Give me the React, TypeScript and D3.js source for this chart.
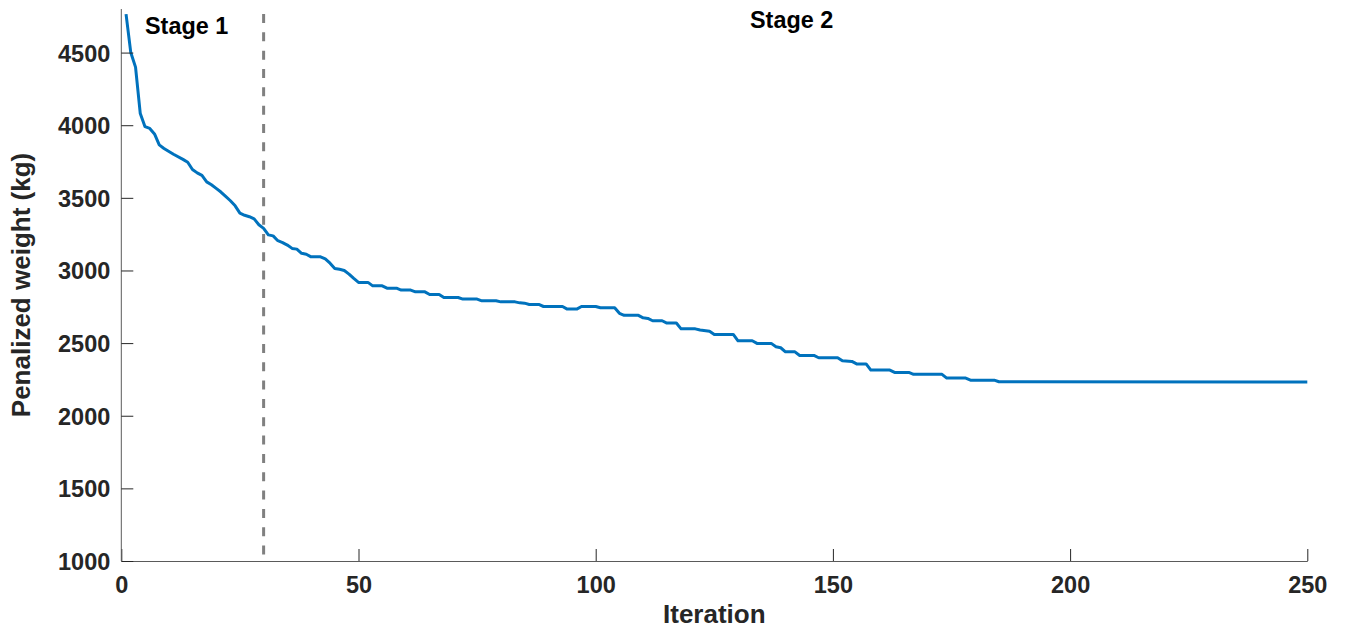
import React, { useEffect, useRef } from 'react'
import * as d3 from 'd3'

// breakpoints of the best-so-far curve (iteration, penalized weight in kg)
const iterations = [
	1, 2, 3, 4, 5, 6, 7, 8, 9, 11, 13, 14, 15, 16, 17, 18, 19, 20, 21, 22, 23, 24, 25, 26, 27, 28, 29, 30,
	31, 32, 33, 34, 35, 36, 37, 38, 39, 40, 42, 43, 44, 45, 46, 47, 48, 49, 50, 52, 53, 55, 56, 58, 59, 61,
	62, 64, 65, 67, 68, 71, 72, 75, 76, 79, 80, 83, 84, 85, 86, 88, 89, 93, 94, 96, 97, 100, 101, 104, 105,
	106, 109, 110, 111, 112, 114, 115, 117, 118, 121, 122, 124, 125, 129, 130, 133, 134, 137, 138, 139, 140,
	142, 143, 146, 147, 151, 152, 154, 155, 157, 158, 162, 163, 166, 167, 173, 174, 178, 179, 184, 185, 250,
]
const weights = [
	4765, 4500, 4400, 4080, 3990, 3978, 3940, 3865, 3840, 3800, 3765, 3745, 3695, 3672, 3655, 3610, 3590,
	3565, 3540, 3510, 3480, 3445, 3395, 3380, 3370, 3355, 3315, 3290, 3245, 3238, 3205, 3192, 3175, 3152,
	3147, 3118, 3112, 3094, 3094, 3080, 3050, 3014, 3008, 3000, 2975, 2945, 2918, 2918, 2894, 2894, 2878,
	2878, 2865, 2865, 2853, 2853, 2835, 2835, 2814, 2814, 2803, 2803, 2791, 2791, 2784, 2784, 2777, 2775,
	2766, 2766, 2752, 2752, 2734, 2734, 2752, 2752, 2743, 2743, 2705, 2691, 2691, 2674, 2670, 2654, 2654,
	2638, 2638, 2598, 2598, 2590, 2582, 2560, 2560, 2516, 2516, 2498, 2498, 2475, 2468, 2440, 2440, 2415,
	2415, 2399, 2399, 2378, 2374, 2357, 2357, 2314, 2314, 2298, 2298, 2285, 2285, 2259, 2259, 2245, 2245,
	2234, 2232,
]
const xTicks = [0, 50, 100, 150, 200, 250]
const yTicks = [1000, 1500, 2000, 2500, 3000, 3500, 4000, 4500]
const stageSplit = 30
const stageLabels = ['Stage 1', 'Stage 2']

const App = () => {
	const ref = useRef<SVGSVGElement>(null)

	useEffect(() => {
		const svg = d3.select(ref.current)
		svg.selectAll('*').remove()

		const font = "'Liberation Sans', Arial, sans-serif"
		const ink = '#262626'
		const left = 121.3
		const right = 1307.3
		const top = 9
		const bottom = 561

		const xScale = d3.scaleLinear().domain([0, 250]).range([left, right])
		const yScale = d3.scaleLinear().domain([1000, 4800]).range([bottom, top])

		// stage divider
		svg.append('line')
			.attr('x1', xScale(stageSplit))
			.attr('x2', xScale(stageSplit))
			.attr('y1', yScale(4800))
			.attr('y2', yScale(1000))
			.attr('stroke', '#808080')
			.attr('stroke-width', 3)
			.attr('stroke-dasharray', '9 9.33')
			.attr('stroke-dashoffset', 13.33)

		const points = iterations.map((it, i) => [it, weights[i]] as [number, number])
		const line = d3
			.line<[number, number]>()
			.x(d => xScale(d[0]))
			.y(d => yScale(d[1]))

		svg.append('path')
			.attr('d', line(points))
			.attr('fill', 'none')
			.attr('stroke', '#0072BD')
			.attr('stroke-width', 3)
			.attr('stroke-linejoin', 'round')

		// axes, MATLAB style with inward ticks
		const xAxis = d3
			.axisBottom(xScale)
			.tickValues(xTicks)
			.tickFormat(d3.format('d'))
			.tickSize(-12)
			.tickPadding(15)
			.tickSizeOuter(0)
		const yAxis = d3
			.axisLeft(yScale)
			.tickValues(yTicks)
			.tickFormat(d3.format('d'))
			.tickSize(-12)
			.tickPadding(11)
			.tickSizeOuter(0)

		const gx = svg.append('g').attr('transform', `translate(0, ${bottom})`).call(xAxis)
		const gy = svg.append('g').attr('transform', `translate(${left}, 0)`).call(yAxis)

		for (const g of [gx, gy]) {
			g.select('.domain').attr('stroke', '#5a5a5a').attr('stroke-width', 1)
			g.selectAll('.tick line').attr('stroke', ink).attr('stroke-width', 1)
			g.selectAll('.tick text')
				.attr('fill', ink)
				.attr('font-family', font)
				.attr('font-weight', 'bold')
				.attr('font-size', 23.5)
		}
		gy.select('.domain').attr('d', `M0,${top}V${bottom}`)
		gy.selectAll('.tick text').attr('dy', '0.36em')
		gx.selectAll('.tick text').attr('dy', '0.71em')

		svg.append('text')
			.text('Iteration')
			.attr('x', (left + right) / 2)
			.attr('y', 623)
			.attr('text-anchor', 'middle')
			.attr('fill', ink)
			.attr('font-family', font)
			.attr('font-weight', 'bold')
			.attr('font-size', 26)

		svg.append('text')
			.text('Penalized weight (kg)')
			.attr('transform', `translate(30, ${(top + bottom) / 2}) rotate(-90)`)
			.attr('text-anchor', 'middle')
			.attr('fill', ink)
			.attr('font-family', font)
			.attr('font-weight', 'bold')
			.attr('font-size', 26)

		svg.append('text')
			.text(stageLabels[0])
			.attr('x', 145)
			.attr('y', 34)
			.attr('fill', '#000')
			.attr('font-family', font)
			.attr('font-weight', 'bold')
			.attr('font-size', 23.4)

		svg.append('text')
			.text(stageLabels[1])
			.attr('x', 750)
			.attr('y', 28)
			.attr('fill', '#000')
			.attr('font-family', font)
			.attr('font-weight', 'bold')
			.attr('font-size', 23.4)
	}, [])

	return (
		<svg
			ref={ref}
			width={1345}
			height={629}
			style={{ position: 'absolute', left: 0, top: 0, background: '#fff' }}
		/>
	)
}

export default App
